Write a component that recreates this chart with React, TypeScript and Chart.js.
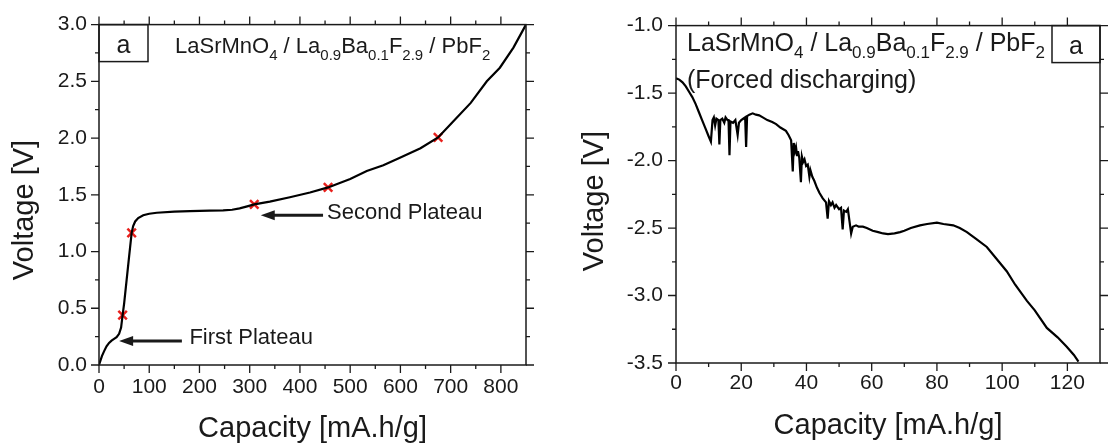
import { useEffect, useRef } from 'react';
import { Chart, registerables } from 'chart.js';

Chart.register(...registerables);

const FONT = "'Liberation Sans', Arial, Helvetica, sans-serif";
const INK = '#1a1a1a';

// ---- Left panel: charge curve ----
const chargeCapacity = [0, 3, 6, 10, 15, 20, 25, 30, 35, 40, 44, 47, 50, 55, 60, 65, 68, 72, 78, 88, 100, 115, 150, 181, 220, 247, 265, 280, 295, 309, 340, 380, 420, 456, 500, 533, 566, 599, 640, 675, 705, 740, 772, 798, 825, 850];
const chargeVoltage = [0, 0.04, 0.08, 0.12, 0.165, 0.195, 0.215, 0.23, 0.245, 0.275, 0.33, 0.44, 0.54, 0.75, 0.96, 1.165, 1.225, 1.265, 1.295, 1.32, 1.333, 1.342, 1.352, 1.357, 1.36, 1.363, 1.368, 1.38, 1.398, 1.415, 1.44, 1.478, 1.52, 1.565, 1.64, 1.71, 1.76, 1.826, 1.91, 2.006, 2.145, 2.31, 2.5, 2.62, 2.797, 3.0];
const markerCapacity = [47, 65, 309, 456, 675];
const markerVoltage = [0.44, 1.165, 1.415, 1.565, 2.006];

const leftXMajor = [0, 100, 200, 300, 400, 500, 600, 700, 800];
const leftXMinor = [50, 150, 250, 350, 450, 550, 650, 750];
const leftYMajor = [0, 0.5, 1.0, 1.5, 2.0, 2.5, 3.0];
const leftYMinor = [0.25, 0.75, 1.25, 1.75, 2.25, 2.75];

// ---- Right panel: forced discharging ----
const forcedCapacity = [0, 1, 2, 3, 4, 5, 6, 7, 8, 9, 10, 10.7, 11.2, 11.6, 12.0, 12.4, 13.0, 13.3, 13.6, 14.2, 14.8, 15.2, 15.8, 16.1, 16.4, 16.7, 17.5, 18.2, 18.9, 19.3, 20.0, 20.6, 21.2, 21.5, 21.8, 22.5, 23.5, 24.5, 25.5, 26.6, 28, 29.5, 30.7, 32, 33.7, 34.5, 35.3, 35.8, 36.1, 36.5, 36.8, 37.1, 37.4, 37.8, 38.3, 38.6, 39.0, 39.4, 39.9, 40.4, 40.9, 41.2, 41.8, 42.4, 43.2, 44, 45, 46, 46.5, 46.9, 47.5, 48, 48.6, 49.1, 50, 50.6, 51.1, 51.5, 52.2, 52.7, 53.2, 53.7, 54.2, 55.2, 56, 57.3, 58.5, 60.3, 62, 63.5, 65, 67, 68.7, 70, 72, 74.8, 77, 80, 82, 85, 87, 89.2, 92, 95.3, 98, 101.4, 104, 107.6, 110, 113.7, 117, 119.8, 122, 123.4];
const forcedVoltage = [-1.39, -1.40, -1.42, -1.45, -1.49, -1.53, -1.58, -1.64, -1.70, -1.76, -1.82, -1.86, -1.70, -1.68, -1.74, -1.69, -1.70, -1.88, -1.70, -1.69, -1.72, -1.68, -1.70, -1.70, -1.96, -1.71, -1.72, -1.70, -1.81, -1.72, -1.70, -1.69, -1.68, -1.90, -1.67, -1.66, -1.65, -1.66, -1.665, -1.68, -1.70, -1.715, -1.73, -1.755, -1.78, -1.81, -1.85, -2.08, -1.87, -1.93, -1.90, -1.96, -1.93, -1.98, -2.16, -1.97, -2.01, -1.99, -2.04, -2.03, -2.12, -2.07, -2.12, -2.15, -2.20, -2.24, -2.28, -2.31, -2.43, -2.30, -2.33, -2.31, -2.35, -2.33, -2.36, -2.35, -2.51, -2.37, -2.38, -2.36, -2.45, -2.54, -2.49, -2.48, -2.49, -2.49, -2.50, -2.52, -2.53, -2.54, -2.545, -2.54, -2.53, -2.52, -2.50, -2.48, -2.47, -2.46, -2.47, -2.48, -2.50, -2.53, -2.58, -2.64, -2.72, -2.82, -2.92, -3.04, -3.11, -3.24, -3.31, -3.38, -3.44, -3.49];

const rightXMajor = [0, 20, 40, 60, 80, 100, 120];
const rightXMinor = [10, 30, 50, 70, 90, 110];
const rightYMajor = [-3.5, -3.0, -2.5, -2.0, -1.5, -1.0];
const rightYMinor = [-3.25, -2.75, -2.25, -1.75, -1.25];

const titleParts: [string, boolean][] = [
  ['LaSrMnO', false], ['4', true], [' / La', false], ['0.9', true], ['Ba', false],
  ['0.1', true], ['F', false], ['2.9', true], [' / PbF', false], ['2', true],
];

function drawRich(ctx: CanvasRenderingContext2D, x: number, y: number, main: number, sub: number, dy: number) {
  let cx = x;
  ctx.textAlign = 'left';
  ctx.textBaseline = 'alphabetic';
  for (const [t, isSub] of titleParts) {
    ctx.font = `${isSub ? sub : main}px ${FONT}`;
    ctx.fillText(t, cx, isSub ? y + dy : y);
    cx += ctx.measureText(t).width;
  }
}

function arrow(ctx: CanvasRenderingContext2D, x0: number, x1: number, y: number) {
  ctx.save();
  ctx.strokeStyle = INK;
  ctx.fillStyle = INK;
  ctx.lineWidth = 3;
  ctx.beginPath();
  ctx.moveTo(x0, y);
  ctx.lineTo(x1 + 10, y);
  ctx.stroke();
  ctx.beginPath();
  ctx.moveTo(x1, y);
  ctx.lineTo(x1 + 14, y - 5);
  ctx.lineTo(x1 + 14, y + 5);
  ctx.closePath();
  ctx.fill();
  ctx.restore();
}

type Frame = {
  xMajor: number[]; xMinor: number[]; yMajor: number[]; yMinor: number[];
  yTitleX: number; yTitleCY: number; xTitleY: number;
  extras: (chart: any) => void;
};

function framePlugin(f: Frame) {
  return {
    id: 'frame',
    afterDraw(chart: any) {
      const ctx: CanvasRenderingContext2D = chart.ctx;
      const ca = chart.chartArea;
      const xs = chart.scales.x;
      const ys = chart.scales.y;
      ctx.save();
      ctx.strokeStyle = INK;
      ctx.lineWidth = 1.5;
      ctx.strokeRect(ca.left, ca.top, ca.right - ca.left, ca.bottom - ca.top);
      ctx.lineWidth = 1.3;
      const tx = (v: number, len: number) => {
        const p = xs.getPixelForValue(v);
        ctx.beginPath();
        ctx.moveTo(p, ca.bottom); ctx.lineTo(p, ca.bottom + len);
        ctx.moveTo(p, ca.top); ctx.lineTo(p, ca.top - len);
        ctx.stroke();
      };
      const ty = (v: number, len: number) => {
        const p = ys.getPixelForValue(v);
        ctx.beginPath();
        ctx.moveTo(ca.left, p); ctx.lineTo(ca.left - len, p);
        ctx.moveTo(ca.right, p); ctx.lineTo(ca.right + len, p);
        ctx.stroke();
      };
      f.xMajor.forEach((v) => tx(v, 8));
      f.xMinor.forEach((v) => tx(v, 4));
      f.yMajor.forEach((v) => ty(v, 8));
      f.yMinor.forEach((v) => ty(v, 4));

      ctx.fillStyle = INK;
      ctx.font = `29px ${FONT}`;
      ctx.textAlign = 'center';
      ctx.textBaseline = 'alphabetic';
      ctx.fillText('Capacity [mA.h/g]', (ca.left + ca.right) / 2, f.xTitleY);
      ctx.save();
      ctx.translate(f.yTitleX, f.yTitleCY);
      ctx.rotate(-Math.PI / 2);
      ctx.fillText('Voltage [V]', 0, 0);
      ctx.restore();

      f.extras(chart);
      ctx.restore();
    },
  };
}

function baseScales(xMin: number, xMax: number, yMin: number, yMax: number, xMajor: number[], yMajor: number[], yWidth: number, xHeight: number, xPad: number, yPad: number) {
  return {
    x: {
      type: 'linear', min: xMin, max: xMax,
      grid: { display: false, drawTicks: false },
      border: { display: false },
      afterBuildTicks: (s: any) => { s.ticks = xMajor.map((v) => ({ value: v })); },
      afterFit: (s: any) => { s.height = xHeight; },
      ticks: { font: { family: FONT, size: 21 }, color: INK, padding: xPad, maxRotation: 0, autoSkip: false, callback: (v: any) => String(v) },
    },
    y: {
      type: 'linear', min: yMin, max: yMax,
      grid: { display: false, drawTicks: false },
      border: { display: false },
      afterBuildTicks: (s: any) => { s.ticks = yMajor.map((v) => ({ value: v })); },
      afterFit: (s: any) => { s.width = yWidth; },
      ticks: { font: { family: FONT, size: 21 }, color: INK, padding: yPad, autoSkip: false, callback: (v: any) => Number(v).toFixed(1) },
    },
  };
}

function leftConfig(): any {
  return {
    type: 'scatter',
    data: {
      datasets: [
        {
          data: chargeCapacity.map((c, i) => ({ x: c, y: chargeVoltage[i] })),
          showLine: true, borderColor: '#000', borderWidth: 2.2, pointRadius: 0, tension: 0,
        },
        {
          data: markerCapacity.map((c, i) => ({ x: c, y: markerVoltage[i] })),
          showLine: false, pointStyle: 'crossRot', pointRadius: 6, borderColor: '#e8201c', borderWidth: 2.5, backgroundColor: '#e8201c',
        },
      ],
    },
    options: {
      responsive: false, animation: false,
      layout: { padding: { top: 20, right: 34, left: 0, bottom: 0 } },
      plugins: { legend: { display: false }, tooltip: { enabled: false } },
      scales: baseScales(0, 850, 0, 3.0, leftXMajor, leftYMajor, 99, 81, 10, 12),
    },
    plugins: [framePlugin({
      xMajor: leftXMajor, xMinor: leftXMinor, yMajor: leftYMajor, yMinor: leftYMinor,
      yTitleX: 33, yTitleCY: 210, xTitleY: 437,
      extras: (chart: any) => {
        const ctx: CanvasRenderingContext2D = chart.ctx;
        const ca = chart.chartArea;
        const xs = chart.scales.x;
        const ys = chart.scales.y;
        ctx.strokeStyle = INK;
        ctx.lineWidth = 1.5;
        ctx.strokeRect(ca.left, ca.top, 49, 37);
        ctx.font = `25px ${FONT}`;
        ctx.textAlign = 'center';
        ctx.textBaseline = 'alphabetic';
        ctx.fillText('a', ca.left + 24.5, ca.top + 28);
        drawRich(ctx, ca.left + 76, ca.top + 28, 22, 15, 7);
        arrow(ctx, xs.getPixelForValue(165), xs.getPixelForValue(40), ys.getPixelForValue(0.211));
        arrow(ctx, xs.getPixelForValue(446), xs.getPixelForValue(322), ys.getPixelForValue(1.32));
        ctx.font = `22px ${FONT}`;
        ctx.textAlign = 'left';
        ctx.fillText('First Plateau', xs.getPixelForValue(180), ys.getPixelForValue(0.183));
        ctx.fillText('Second Plateau', xs.getPixelForValue(454), ys.getPixelForValue(1.287));
      },
    })],
  };
}

function rightConfig(): any {
  return {
    type: 'scatter',
    data: {
      datasets: [
        {
          data: forcedCapacity.map((c, i) => ({ x: c, y: forcedVoltage[i] })),
          showLine: true, borderColor: '#000', borderWidth: 2.2, pointRadius: 0, tension: 0,
        },
      ],
    },
    options: {
      responsive: false, animation: false,
      layout: { padding: { top: 20, right: 19, left: 0, bottom: 0 } },
      plugins: { legend: { display: false }, tooltip: { enabled: false } },
      scales: baseScales(0, 130, -3.5, -1.0, rightXMajor, rightYMajor, 116, 83, 8, 13),
    },
    plugins: [framePlugin({
      xMajor: rightXMajor, xMinor: rightXMinor, yMajor: rightYMajor, yMinor: rightYMinor,
      yTitleX: 43, yTitleCY: 201, xTitleY: 434,
      extras: (chart: any) => {
        const ctx: CanvasRenderingContext2D = chart.ctx;
        const ca = chart.chartArea;
        ctx.strokeStyle = INK;
        ctx.lineWidth = 1.5;
        ctx.strokeRect(ca.right - 48, ca.top, 48, 37);
        ctx.font = `25px ${FONT}`;
        ctx.textAlign = 'center';
        ctx.textBaseline = 'alphabetic';
        ctx.fillText('a', ca.right - 24, ca.top + 28);
        drawRich(ctx, ca.left + 11, ca.top + 25, 25, 17, 7);
        ctx.font = `25px ${FONT}`;
        ctx.textAlign = 'left';
        ctx.fillText('(Forced discharging)', ca.left + 11, ca.top + 62);
      },
    })],
  };
}

export default function App() {
  const leftRef = useRef<HTMLCanvasElement>(null);
  const rightRef = useRef<HTMLCanvasElement>(null);
  useEffect(() => {
    const c1 = new Chart(leftRef.current as HTMLCanvasElement, leftConfig());
    const c2 = new Chart(rightRef.current as HTMLCanvasElement, rightConfig());
    return () => { c1.destroy(); c2.destroy(); };
  }, []);
  return (
    <div style={{ position: 'absolute', left: 0, top: 0, width: 1119, height: 446, background: '#fff' }}>
      <canvas ref={leftRef} width={560} height={446} style={{ position: 'absolute', left: 0, top: 0 }} />
      <canvas ref={rightRef} width={559} height={446} style={{ position: 'absolute', left: 560, top: 0 }} />
    </div>
  );
}
